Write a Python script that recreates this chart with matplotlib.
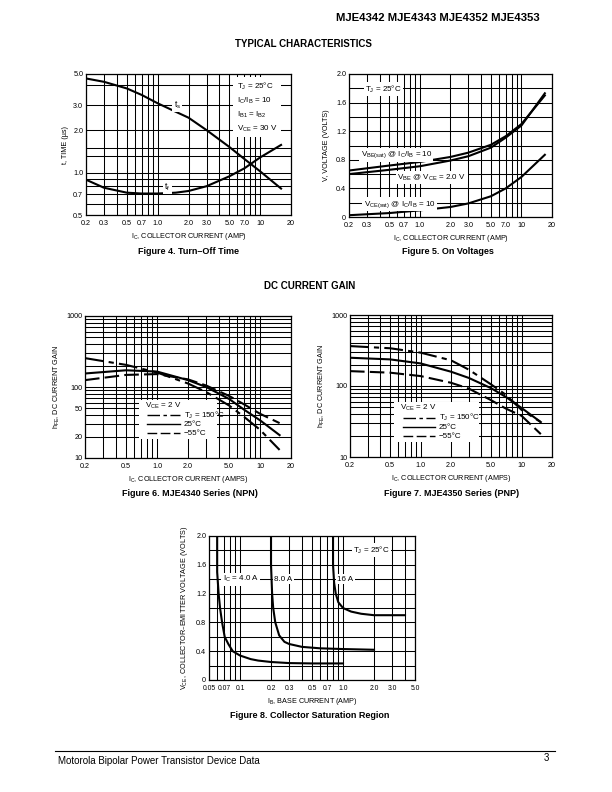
import numpy as np
import matplotlib
matplotlib.use("Agg")
import matplotlib.pyplot as plt
from matplotlib.patches import Rectangle

plt.rcParams['font.family'] = ['Liberation Sans', 'DejaVu Sans']
plt.rcParams['mathtext.default'] = 'regular'

# ---- Figure 4: turn-off time ----
toff_ic = [0.2, 0.3, 0.5, 0.7, 1.0, 1.5, 2.0, 3.0, 5.0, 7.0, 10, 16]
ts_us = [4.65, 4.4, 3.95, 3.55, 3.1, 2.7, 2.45, 2.0, 1.52, 1.25, 1.02, 0.77]
tf_us = [0.89, 0.78, 0.72, 0.71, 0.71, 0.72, 0.74, 0.80, 0.94, 1.07, 1.28, 1.57]

# ---- Figure 5: on voltages ----
von_ic = [0.2, 0.5, 1.0, 2.0, 3.0, 5.0, 7.0, 10, 17]
vbe_sat = [0.65, 0.72, 0.77, 0.84, 0.90, 1.01, 1.13, 1.30, 1.70]
vbe_on = [0.60, 0.66, 0.71, 0.79, 0.85, 0.97, 1.11, 1.28, 1.73]
vce_sat = [0.025, 0.055, 0.093, 0.14, 0.19, 0.29, 0.40, 0.56, 0.87]

# ---- Figures 6 and 7: DC current gain ----
hfe_ic = [0.2, 0.5, 1.0, 2.0, 3.0, 5.0, 7.0, 10, 15.5]
npn_150 = [255, 205, 160, 112, 85, 55, 38, 25, 13]
npn_25 = [155, 172, 165, 125, 100, 68, 48, 34, 21]
npn_m55 = [125, 148, 152, 128, 105, 75, 57, 42, 31]
pnp_150 = [365, 340, 295, 230, 170, 105, 75, 46, 31]
pnp_25 = [250, 237, 208, 159, 130, 93, 70, 49, 31]
pnp_m55 = [162, 154, 138, 111, 92, 63, 48, 38, 21]

# ---- Figure 8: collector saturation ----
ib_4a = [0.06, 0.06, 0.062, 0.064, 0.067, 0.071, 0.077, 0.085, 0.1, 0.127, 0.15, 0.2, 0.3, 0.5, 1.0]
vce_4a = [2.0, 1.5, 1.2, 1.0, 0.8, 0.6, 0.5, 0.4, 0.34, 0.29, 0.27, 0.25, 0.235, 0.23, 0.23]
ib_8a = [0.2, 0.2, 0.205, 0.21, 0.22, 0.24, 0.27, 0.3, 0.4, 0.6, 1.0, 2.0]
vce_8a = [2.0, 1.6, 1.2, 1.0, 0.8, 0.62, 0.53, 0.5, 0.46, 0.44, 0.43, 0.42]
ib_16a = [0.8, 0.8, 0.82, 0.85, 0.9, 1.0, 1.2, 1.5, 2.0, 4.0]
vce_16a = [2.0, 1.6, 1.35, 1.2, 1.08, 1.0, 0.95, 0.92, 0.9, 0.9]

# tick labels
ic_ticks = [0.2, 0.3, 0.5, 0.7, 1.0, 2.0, 3.0, 5.0, 7.0, 10, 20]
ic_ticklabels = ['0.2', '0.3', '0.5', '0.7', '1.0', '2.0', '3.0', '5.0', '7.0', '10', '20']
gain_ic_ticks = [0.2, 0.5, 1.0, 2.0, 5.0, 10, 20]
gain_ic_ticklabels = ['0.2', '0.5', '1.0', '2.0', '5.0', '10', '20']
t_ticks = [0.5, 0.7, 1.0, 2.0, 3.0, 5.0]
t_ticklabels = ['0.5', '0.7', '1.0', '2.0', '3.0', '5.0']
v_ticks = [0, 0.4, 0.8, 1.2, 1.6, 2.0]
v_ticklabels = ['0', '0.4', '0.8', '1.2', '1.6', '2.0']
npn_hfe_ticks = [10, 20, 50, 100, 1000]
npn_hfe_ticklabels = ['10', '20', '50', '100', '1000']
pnp_hfe_ticks = [10, 100, 1000]
pnp_hfe_ticklabels = ['10', '100', '1000']
ib_ticks = [0.05, 0.07, 0.1, 0.2, 0.3, 0.5, 0.7, 1.0, 2.0, 3.0, 5.0]
ib_ticklabels = ['0.05', '0.07', '0.1', '0.2', '0.3', '0.5', '0.7', '1.0', '2.0', '3.0', '5.0']

FS = 5.2
LW = 1.5
DASHDOT = (0, (9, 2.5, 2.5, 2.5))
LDASH = (0, (7, 2.5))


def log_grid(lo, hi):
    vals = []
    d = 10.0 ** np.floor(np.log10(lo))
    while d <= hi:
        for m in range(1, 10):
            v = m * d
            if lo - 1e-9 <= v <= hi + 1e-9:
                vals.append(round(v, 6))
        d *= 10
    return vals


def set_axis(ax, which, grid, ticks, labels):
    lab = []
    for g in grid:
        s = ''
        for t, l in zip(ticks, labels):
            if abs(g - t) < 1e-6 * max(1, abs(t)):
                s = l
        lab.append(s)
    if which == 'x':
        ax.set_xticks(grid, labels=lab)
        ax.xaxis.set_minor_locator(matplotlib.ticker.NullLocator())
    else:
        ax.set_yticks(grid, labels=lab)
        ax.yaxis.set_minor_locator(matplotlib.ticker.NullLocator())


def style(ax):
    ax.grid(True, color='black', lw=0.75)
    ax.set_axisbelow(True)
    ax.tick_params(length=0, labelsize=FS)
    ax.tick_params(axis='x', pad=3.5)
    ax.tick_params(axis='y', pad=2)
    for s in ax.spines.values():
        s.set_linewidth(0.9)


def new_ax(fig, l, r, t, b):
    W, H = 612.0, 792.0
    return fig.add_axes([l / W, 1 - b / H, (r - l) / W, (b - t) / H])


fig = plt.figure(figsize=(6.12, 7.92), dpi=100)
white = dict(facecolor='white', edgecolor='none', pad=1.0)

# ---------- Figure 4 ----------
ax = new_ax(fig, 86, 291, 74, 215)
ax.set_xscale('log')
ax.set_yscale('log')
ax.set_xlim(0.2, 20)
ax.set_ylim(0.5, 5.0)
set_axis(ax, 'x', log_grid(0.2, 20), ic_ticks, ic_ticklabels)
set_axis(ax, 'y', [0.5, 0.6, 0.7, 0.8, 0.9, 1.0, 1.3, 1.5, 2.0, 3.0, 4.2, 5.0], t_ticks, t_ticklabels)
style(ax)
ax.plot(toff_ic, ts_us, color='black', lw=LW)
ax.plot(toff_ic, tf_us, color='black', lw=LW)
ax.text(1.55, 3.0, r'$t_s$', fontsize=FS + 1, ha='center', va='center', bbox=white)
ax.text(1.25, 0.79, r'$t_f$', fontsize=FS + 1, ha='center', va='center', bbox=white)
ax.text(0.735, 0.955, 'T$_J$ = 25°C\nI$_C$/I$_B$ = 10\nI$_{B1}$ = I$_{B2}$\nV$_{CE}$ = 30 V',
        transform=ax.transAxes, fontsize=FS + 0.6, va='top', ha='left', linespacing=1.55,
        bbox=dict(facecolor='white', edgecolor='none', pad=2.5))
ax.set_xlabel('I$_C$, COLLECTOR CURRENT (AMP)', fontsize=FS, labelpad=3)
ax.set_ylabel('t, TIME (µs)', fontsize=FS, labelpad=3)

# ---------- Figure 5 ----------
ax = new_ax(fig, 349, 552, 74, 217)
ax.set_xscale('log')
ax.set_xlim(0.2, 20)
ax.set_ylim(0, 2.0)
set_axis(ax, 'x', log_grid(0.2, 20), ic_ticks, ic_ticklabels)
set_axis(ax, 'y', list(np.round(np.arange(0, 2.01, 0.2), 2)), v_ticks, v_ticklabels)
style(ax)
ax.plot(von_ic, vbe_sat, color='black', lw=LW)
ax.plot(von_ic, vbe_on, color='black', lw=LW)
ax.plot(von_ic, vce_sat, color='black', lw=LW)
ax.text(0.29, 1.79, 'T$_J$ = 25°C', fontsize=FS + 0.6, va='center', bbox=white)
ax.text(0.26, 0.87, 'V$_{BE(sat)}$ @ I$_C$/I$_B$ = 10', fontsize=FS + 0.6, va='center', bbox=white)
ax.text(0.6, 0.55, 'V$_{BE}$ @ V$_{CE}$ = 2.0 V', fontsize=FS + 0.6, va='center', bbox=white)
ax.text(0.28, 0.18, 'V$_{CE(sat)}$ @ I$_C$/I$_B$ = 10', fontsize=FS + 0.6, va='center', bbox=white)
ax.set_xlabel('I$_C$, COLLECTOR CURRENT (AMP)', fontsize=FS, labelpad=3)
ax.set_ylabel('V, VOLTAGE (VOLTS)', fontsize=FS, labelpad=4)


def gain_legend(ax, x0, x1, y0, y1):
    ax.add_patch(Rectangle((x0, y0), x1 - x0, y1 - y0, transform=ax.transAxes,
                           facecolor='white', edgecolor='none', zorder=3))
    h = (y1 - y0)
    ax.text(x0 + 0.03, y1 - 0.15 * h, 'V$_{CE}$ = 2 V', transform=ax.transAxes,
            fontsize=FS + 0.6, va='center', zorder=4)
    styles = [DASHDOT, '-', LDASH]
    names = ['T$_J$ = 150°C', '25°C', '\u221255°C']
    for i in range(3):
        yy = y1 - (0.40 + 0.23 * i) * h
        ax.plot([x0 + 0.04, x0 + 0.20], [yy, yy], transform=ax.transAxes, color='black',
                lw=1.0, ls=styles[i], zorder=4)
        ax.text(x0 + 0.22, yy, names[i], transform=ax.transAxes, fontsize=FS + 0.6,
                va='center', zorder=4)


# ---------- Figure 6 ----------
ax = new_ax(fig, 85, 291, 316, 458)
ax.set_xscale('log')
ax.set_yscale('log')
ax.set_xlim(0.2, 20)
ax.set_ylim(10, 1000)
set_axis(ax, 'x', log_grid(0.2, 20), gain_ic_ticks, gain_ic_ticklabels)
set_axis(ax, 'y', log_grid(10, 1000), npn_hfe_ticks, npn_hfe_ticklabels)
style(ax)
ax.plot(hfe_ic, npn_150, color='black', lw=LW, ls=DASHDOT)
ax.plot(hfe_ic, npn_25, color='black', lw=LW)
ax.plot(hfe_ic, npn_m55, color='black', lw=LW, ls=LDASH)
gain_legend(ax, 0.26, 0.64, 0.135, 0.41)
ax.set_xlabel('I$_C$, COLLECTOR CURRENT (AMPS)', fontsize=FS, labelpad=3)
ax.set_ylabel('h$_{FE}$, DC CURRENT GAIN', fontsize=FS, labelpad=3)

# ---------- Figure 7 ----------
ax = new_ax(fig, 350, 552, 315, 457)
ax.set_xscale('log')
ax.set_yscale('log')
ax.set_xlim(0.2, 20)
ax.set_ylim(10, 1000)
set_axis(ax, 'x', log_grid(0.2, 20), gain_ic_ticks, gain_ic_ticklabels)
set_axis(ax, 'y', log_grid(10, 1000), pnp_hfe_ticks, pnp_hfe_ticklabels)
style(ax)
ax.plot(hfe_ic, pnp_150, color='black', lw=LW, ls=DASHDOT)
ax.plot(hfe_ic, pnp_25, color='black', lw=LW)
ax.plot(hfe_ic, pnp_m55, color='black', lw=LW, ls=LDASH)
gain_legend(ax, 0.22, 0.64, 0.105, 0.39)
ax.set_xlabel('I$_C$, COLLECTOR CURRENT (AMPS)', fontsize=FS, labelpad=3)
ax.set_ylabel('h$_{FE}$, DC CURRENT GAIN', fontsize=FS, labelpad=3)

# ---------- Figure 8 ----------
ax = new_ax(fig, 209, 415, 536, 680)
ax.set_xscale('log')
ax.set_xlim(0.05, 5.0)
ax.set_ylim(0, 2.0)
set_axis(ax, 'x', log_grid(0.05, 5.0), ib_ticks, ib_ticklabels)
set_axis(ax, 'y', list(np.round(np.arange(0, 2.01, 0.2), 2)), v_ticks, v_ticklabels)
style(ax)
ax.tick_params(axis='x', labelsize=FS - 0.3)
ax.plot(ib_4a, vce_4a, color='black', lw=LW)
ax.plot(ib_8a, vce_8a, color='black', lw=LW)
ax.plot(ib_16a, vce_16a, color='black', lw=LW)
ax.text(0.068, 1.4, 'I$_C$ = 4.0 A', fontsize=FS + 0.6, va='center', bbox=white)
ax.text(0.215, 1.4, '8.0 A', fontsize=FS + 0.6, va='center', bbox=white)
ax.text(0.88, 1.4, '16 A', fontsize=FS + 0.6, va='center', bbox=white)
ax.text(1.25, 1.8, 'T$_J$ = 25°C', fontsize=FS + 0.6, va='center', bbox=white)
ax.set_xlabel('I$_B$, BASE CURRENT (AMP)', fontsize=FS, labelpad=3)
ax.set_ylabel('V$_{CE}$, COLLECTOR\u2013EMITTER VOLTAGE (VOLTS)', fontsize=FS, labelpad=4)

# ---------- page text ----------
fig.text(540 / 612, 1 - 18 / 792, 'MJE4342 MJE4343 MJE4352 MJE4353', fontsize=8.2,
         fontweight='bold', ha='right', va='center')
fig.text(303 / 612, 1 - 44 / 792, 'TYPICAL CHARACTERISTICS', fontsize=7, fontweight='bold',
         ha='center', va='center')
fig.text(310 / 612, 1 - 286 / 792, 'DC CURRENT GAIN', fontsize=7, fontweight='bold',
         ha='center', va='center')
caps = [(188, 252, 'Figure 4. Turn\u2013Off Time'),
        (448, 252, 'Figure 5. On Voltages'),
        (190, 493, 'Figure 6. MJE4340 Series (NPN)'),
        (452, 493, 'Figure 7. MJE4350 Series (PNP)'),
        (310, 715, 'Figure 8. Collector Saturation Region')]
for x, y, s in caps:
    fig.text(x / 612, 1 - y / 792, s, fontsize=6.5, fontweight='bold', ha='center', va='center')

fig.add_artist(plt.Line2D([55 / 612, 555 / 612], [1 - 751 / 792, 1 - 751 / 792], color='black', lw=0.8))
fig.text(58 / 612, 1 - 761 / 792, 'Motorola Bipolar Power Transistor Device Data', fontsize=7,
         ha='left', va='center')
fig.text(549 / 612, 1 - 758 / 792, '3', fontsize=7, ha='right', va='center')

fig.savefig('out.png', dpi=100)
